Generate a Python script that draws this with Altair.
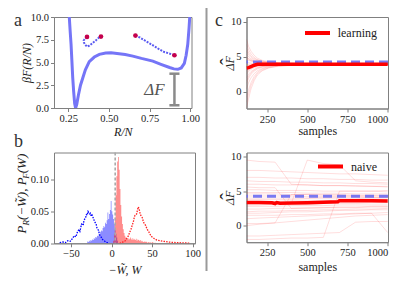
import altair as alt
import pandas as pd

SERIF = "Liberation Serif, DejaVu Serif, serif"
GRAY = "#808080"

# ---------------- panel a : free-energy profile ----------------
curve_r = [0.250, 0.256, 0.262, 0.267, 0.272, 0.277, 0.283, 0.289, 0.295, 0.302, 0.312,
           0.325, 0.339, 0.355, 0.379, 0.410, 0.441, 0.480, 0.513, 0.550, 0.600, 0.647,
           0.700, 0.770, 0.820, 0.873, 0.900, 0.924, 0.945, 0.964, 0.975, 0.985, 0.993, 1.000]
curve_f = [12.5, 10.0, 8.3, 7.0, 5.2, 3.4, 1.8, 0.5, 0.0, 0.4, 1.4,
           2.5, 3.3, 4.2, 5.1, 5.6, 5.9, 6.05, 6.08, 6.0, 5.88, 5.7,
           5.45, 5.15, 4.8, 4.45, 4.3, 4.25, 4.4, 4.9, 5.8, 7.0, 8.8, 10.8]
traj1_r = [0.365, 0.352, 0.345, 0.346, 0.352, 0.365, 0.380, 0.400, 0.418, 0.431, 0.442, 0.451]
traj1_f = [7.81, 7.60, 7.41, 7.20, 7.00, 6.75, 6.85, 7.15, 7.40, 7.63, 7.78, 7.85]
traj2_r = [0.663, 0.690, 0.718, 0.750, 0.780, 0.810, 0.840, 0.870, 0.903]
traj2_f = [7.96, 7.75, 7.45, 7.10, 6.78, 6.45, 6.15, 6.00, 5.80]
ends_r = [0.365, 0.451, 0.663, 0.903]
ends_f = [7.81, 7.85, 7.96, 5.80]
gap_r = 0.903
gap_lo, gap_hi = 0.3, 3.77
gap_cap = 0.031
gap_label = ["ΔF"]
gap_label_r, gap_label_f = 0.78, 2.0

# ---------------- panel b : work histograms ----------------
blue_start, red_start, bin_w = -30, 2, 1
blue_h = [0.003, 0.002, 0.004, 0.003, 0.005, 0.004, 0.006, 0.005, 0.008, 0.007,
          0.010, 0.009, 0.012, 0.011, 0.015, 0.014, 0.018, 0.020, 0.019, 0.024,
          0.027, 0.025, 0.032, 0.030, 0.036, 0.048, 0.038, 0.046, 0.052, 0.066,
          0.050, 0.045, 0.038, 0.030, 0.022, 0.015, 0.009, 0.004]
red_h = [0.004, 0.015, 0.040, 0.075, 0.105, 0.128, 0.135, 0.115, 0.085, 0.060,
         0.042, 0.030, 0.022, 0.016, 0.012, 0.009, 0.008, 0.007, 0.008, 0.006,
         0.007, 0.009, 0.006, 0.008, 0.005, 0.007, 0.006, 0.005, 0.007, 0.004,
         0.006, 0.005, 0.004, 0.005, 0.003, 0.004, 0.003, 0.002, 0.003, 0.002,
         0.003, 0.002, 0.001, 0.002, 0.001, 0.002, 0.001, 0.001, 0.002, 0.001,
         0.001, 0.0005, 0.001, 0.0005, 0.0005, 0.0005, 0.0005, 0.0005]
blue_dot_w = [-64, -60, -57, -54, -51, -48, -46, -44, -42, -40, -39, -37, -35, -34, -32,
              -31, -30, -29, -28, -27, -26, -25, -24, -22, -21, -19, -18, -16, -15, -13,
              -11, -9, -7, -5, -3]
blue_dot_p = [0.001, 0.002, 0.001, 0.004, 0.003, 0.008, 0.012, 0.010, 0.018, 0.022,
              0.019, 0.030, 0.028, 0.036, 0.040, 0.045, 0.044, 0.050, 0.048, 0.046,
              0.047, 0.042, 0.044, 0.038, 0.034, 0.030, 0.024, 0.020, 0.014, 0.010,
              0.006, 0.004, 0.002, 0.001, 0.0]
red_dot_w = [10, 13, 15, 17, 19, 21, 22, 24, 25, 27, 28, 29, 31, 32, 33, 34, 35, 36, 38,
             39, 40, 42, 44, 46, 48, 50, 53, 56, 60, 65, 70, 75, 80, 86, 92, 96]
red_dot_p = [0.0, 0.001, 0.003, 0.004, 0.008, 0.012, 0.016, 0.022, 0.026, 0.034, 0.040,
             0.044, 0.046, 0.052, 0.057, 0.054, 0.048, 0.044, 0.040, 0.035, 0.032, 0.028,
             0.022, 0.018, 0.013, 0.010, 0.007, 0.005, 0.004, 0.003, 0.002, 0.0015,
             0.001, 0.0008, 0.0005, 0.0003]
ref_w = [4.5]

# ---------------- panel c : estimates vs samples ----------------
true_df = [4.25]
top_x = [122, 135, 150, 170, 190, 220, 260, 320, 420, 600, 1000]
top_lines = [
    [6.8, 6.0, 5.4, 4.9, 4.6, 4.35, 4.2, 4.1, 4.03, 4.0, 3.98],
    [0.4, 1.3, 2.0, 2.6, 3.0, 3.35, 3.6, 3.75, 3.85, 3.9, 3.94],
    [-2.3, -1.0, 0.4, 1.6, 2.4, 3.0, 3.4, 3.65, 3.8, 3.88, 3.93],
    [5.4, 5.0, 4.7, 4.45, 4.3, 4.18, 4.1, 4.04, 4.0, 3.98, 3.96],
    [2.0, 2.5, 2.9, 3.2, 3.45, 3.62, 3.75, 3.83, 3.89, 3.93, 3.95],
    [7.5, 6.5, 5.8, 5.2, 4.8, 4.5, 4.3, 4.15, 4.06, 4.01, 3.98],
    [3.0, 3.3, 3.5, 3.65, 3.75, 3.82, 3.87, 3.9, 3.93, 3.95, 3.96],
    [4.6, 4.5, 4.4, 4.3, 4.2, 4.12, 4.06, 4.02, 3.99, 3.97, 3.96],
    [1.2, 1.9, 2.5, 2.95, 3.25, 3.5, 3.68, 3.8, 3.87, 3.92, 3.95],
    [6.2, 5.6, 5.1, 4.75, 4.55, 4.38, 4.24, 4.12, 4.05, 4.0, 3.97],
    [-0.8, 0.3, 1.3, 2.2, 2.8, 3.25, 3.55, 3.72, 3.83, 3.9, 3.94],
    [3.6, 3.7, 3.78, 3.84, 3.88, 3.9, 3.92, 3.94, 3.95, 3.96, 3.96],
    [5.0, 4.75, 4.55, 4.38, 4.27, 4.17, 4.09, 4.04, 4.0, 3.98, 3.96],
    [2.5, 2.9, 3.2, 3.45, 3.6, 3.72, 3.8, 3.86, 3.9, 3.93, 3.95],
    [4.2, 4.15, 4.1, 4.07, 4.05, 4.03, 4.01, 3.99, 3.98, 3.97, 3.96],
    [1.6, 2.2, 2.7, 3.1, 3.38, 3.6, 3.74, 3.83, 3.88, 3.92, 3.95],
    [3.3, 3.5, 3.65, 3.75, 3.82, 3.87, 3.9, 3.92, 3.94, 3.95, 3.96],
    [5.8, 5.3, 4.9, 4.6, 4.42, 4.28, 4.17, 4.08, 4.03, 3.99, 3.97],
    [-1.5, -0.3, 0.9, 1.9, 2.6, 3.1, 3.45, 3.68, 3.82, 3.89, 3.94],
    [4.9, 4.65, 4.45, 4.3, 4.2, 4.12, 4.06, 4.02, 3.99, 3.97, 3.96],
    [2.8, 3.1, 3.35, 3.55, 3.68, 3.78, 3.85, 3.89, 3.92, 3.95, 3.96],
    [3.9, 3.92, 3.94, 3.95, 3.96, 3.96, 3.96, 3.96, 3.96, 3.96, 3.96],
]
top_mean_x = [122, 135, 150, 170, 190, 220, 260, 400, 600, 800, 1000]
top_mean = [3.4, 3.45, 3.6, 3.8, 3.92, 3.95, 3.95, 3.95, 3.95, 3.95, 3.95]

bot_x = [122, 200, 300, 400, 500, 600, 700, 800, 900, 1000]
bot_lines = [
    [9.5, 9.3, 9.2, 6.0, 5.9, 5.8, 5.8, 5.7, 5.7, 5.6],
    [7.0, 7.0, 6.9, 6.9, 6.8, 6.8, 6.7, 6.7, 6.6, 6.6],
    [6.0, 6.0, 5.9, 5.9, 5.9, 5.8, 5.8, 5.8, 5.7, 5.7],
    [5.2, 5.2, 5.1, 5.1, 5.1, 5.0, 5.0, 5.0, 5.0, 4.9],
    [4.6, 4.6, 4.6, 4.5, 4.5, 4.5, 4.5, 4.4, 4.4, 4.4],
    [4.0, 4.0, 4.0, 4.0, 4.0, 4.1, 4.1, 4.1, 4.1, 4.1],
    [3.5, 3.5, 3.5, 3.6, 3.6, 3.6, 3.7, 3.7, 3.7, 3.8],
    [3.0, 3.0, 3.1, 3.1, 3.1, 3.2, 3.2, 3.2, 3.3, 3.3],
    [2.4, 2.4, 2.5, 2.5, 2.6, 2.6, 2.7, 2.7, 2.8, 2.8],
    [1.8, 1.8, 1.9, 2.0, 2.0, 2.1, 2.2, 2.2, 2.3, 2.3],
    [1.0, 1.1, 1.2, 1.3, 1.4, 1.5, 1.6, 1.7, 1.8, 1.9],
    [-1.5, -1.5, -1.4, -1.3, -1.2, -1.1, -1.0, 0.5, 0.6, 0.6],
    [0.3, 0.3, 0.4, 4.5, 4.5, 4.4, 4.4, 4.3, 4.3, 4.3],
    [5.6, 5.5, 5.5, 2.5, 2.5, 2.6, 2.6, 2.6, 2.7, 2.7],
    [3.2, 3.2, 3.2, 3.2, 9.5, 9.0, 8.8, 6.5, 6.3, 6.2],
    [-2.0, -2.0, -1.9, -1.8, -1.8, -1.7, 5.0, 5.0, 5.0, 5.1],
    [6.5, 6.4, 6.4, 6.3, 6.3, 6.2, 6.2, 6.1, 6.1, 6.0],
    [2.0, 2.1, 2.1, 2.2, 2.2, 2.3, 2.3, 2.4, 2.4, 2.5],
    [4.3, 4.3, 4.3, 4.3, 4.2, 4.2, 4.2, 4.2, 4.1, 4.1],
    [3.8, 3.8, 3.8, 3.8, 3.9, 3.9, 3.9, 3.9, 4.0, 4.0],
    [8.0, 8.0, 7.9, 7.8, 7.7, 7.6, 7.5, 7.5, 7.4, 7.3],
    [1.5, 1.5, 1.5, 1.6, 1.6, 1.7, 1.7, 1.8, 1.8, -1.0],
    [2.8, 2.8, 2.8, 2.9, 2.9, 2.9, 3.0, 3.0, 3.0, 3.0],
    [4.8, 4.8, 4.8, 4.8, 4.7, 4.7, 4.7, 4.6, 4.6, 4.6],
    [0.0, 0.2, 0.4, 0.6, 0.8, 1.0, 1.2, 1.4, 1.5, 1.6],
]
bot_mean_x = [122, 200, 280, 300, 310, 330, 400, 500, 600, 690, 700, 800, 900, 1000]
bot_mean = [3.35, 3.35, 3.3, 3.2, 3.35, 3.25, 3.28, 3.32, 3.4, 3.45, 3.62, 3.62, 3.6, 3.58]

legend_labels = ["learning", "naive"]
panel_labels = ["a", "b", "c"]

# ---------------- helpers ----------------
def label_layer(txt, x, y, size=18):
    return alt.Chart(pd.DataFrame({"t": [txt]})).mark_text(
        font=SERIF, fontSize=size, align="left", baseline="alphabetic", color="#333"
    ).encode(x=alt.value(x), y=alt.value(y), text="t:N")


# ---------------- panel a ----------------
WA, HA = 137.5, 91
xa = alt.X("r:Q", scale=alt.Scale(domain=[0.162, 1.008], nice=False, zero=False),
           axis=alt.Axis(values=[0.25, 0.5, 0.75, 1.0], format=".2f", title="R/N",
                         titleX=WA / 2, titleY=23, titleBaseline="middle",
                         titleFontStyle="italic"))
ya = alt.Y("f:Q", scale=alt.Scale(domain=[0, 10], nice=False, zero=False),
           axis=alt.Axis(values=[0, 2.5, 5, 7.5, 10], format=".1f", title="βF(R/N)",
                         titleX=-28, titleY=HA / 2, titleAlign="center",
                         titleBaseline="middle", titleAngle=270, titleFontStyle="italic"))

curve = alt.Chart(pd.DataFrame({"r": curve_r, "f": curve_f})).mark_line(
    color="#7575f7", strokeWidth=3, clip=True).encode(x=xa, y=ya)
t1 = alt.Chart(pd.DataFrame({"r": traj1_r, "f": traj1_f, "o": range(len(traj1_r))})).mark_line(
    color="#4848f0", strokeWidth=2, strokeDash=[2, 1.2], opacity=0.9).encode(x=xa, y=ya, order="o:Q")
t2 = alt.Chart(pd.DataFrame({"r": traj2_r, "f": traj2_f, "o": range(len(traj2_r))})).mark_line(
    color="#4848f0", strokeWidth=2, strokeDash=[2, 1.2], opacity=0.9).encode(x=xa, y=ya, order="o:Q")
ends = alt.Chart(pd.DataFrame({"r": ends_r, "f": ends_f})).mark_point(
    filled=True, size=22, color="#c4004c", opacity=1).encode(x=xa, y=ya)
gap_bar = alt.Chart(pd.DataFrame({"r": [gap_r], "f": [gap_lo], "f2": [gap_hi]})).mark_rule(
    color="#8a8a8a", strokeWidth=2.5).encode(x=xa, y=ya, y2="f2:Q")
gap_caps = alt.Chart(pd.DataFrame({"r": [gap_r - gap_cap] * 2, "r2": [gap_r + gap_cap] * 2,
                                   "f": [gap_lo, gap_hi]})).mark_rule(
    color="#8a8a8a", strokeWidth=2.5).encode(x=xa, x2="r2:Q", y=ya)
gap_txt = alt.Chart(pd.DataFrame({"r": [gap_label_r], "f": [gap_label_f], "t": gap_label})).mark_text(
    font=SERIF, fontSize=17, fontStyle="italic", color="#555", align="center",
    baseline="middle").encode(x=xa, y=ya, text="t:N")

panel_a = alt.layer(curve, t1, t2, ends, gap_bar, gap_caps, gap_txt,
                    label_layer(panel_labels[0], -40, 8.5)).properties(width=WA, height=HA)

# ---------------- panel b ----------------
WB, HB = 141, 90.8
xb = alt.X("w:Q", scale=alt.Scale(domain=[-71, 103], nice=False, zero=False),
           axis=alt.Axis(values=[-50, 0, 50, 100], format="d", title="−W̃, W",
                         titleX=WB / 2, titleY=26.5, titleBaseline="middle",
                         titleFontStyle="italic"))
yb = alt.Y("p:Q", scale=alt.Scale(domain=[0, 0.142], nice=False, zero=False),
           axis=alt.Axis(values=[0, 0.05, 0.1], format=".2f", title=None))


def step_df(start, heights):
    ws = [start + i * bin_w for i in range(len(heights))] + [start + len(heights) * bin_w]
    ps = list(heights) + [heights[-1]]
    return pd.DataFrame({"w": ws, "p": ps})


area_blue = alt.Chart(step_df(blue_start, blue_h)).mark_area(
    color="#0000ff", opacity=0.45, interpolate="step-after", clip=True).encode(x=xb, y=yb)
area_red = alt.Chart(step_df(red_start, red_h)).mark_area(
    color="#ff0000", opacity=0.45, interpolate="step-after", clip=True).encode(x=xb, y=yb)
dot_blue = alt.Chart(pd.DataFrame({"w": blue_dot_w, "p": blue_dot_p})).mark_line(
    color="#0000ff", strokeWidth=1.3, strokeDash=[1.5, 1.2], clip=True).encode(x=xb, y=yb)
dot_red = alt.Chart(pd.DataFrame({"w": red_dot_w, "p": red_dot_p})).mark_line(
    color="#ff2020", strokeWidth=1.3, strokeDash=[1.5, 1.2], clip=True).encode(x=xb, y=yb)
ref_rule = alt.Chart(pd.DataFrame({"w": ref_w})).mark_rule(
    color="#aaaaaa", strokeWidth=1.6, strokeDash=[3, 2]).encode(x=xb)

# rotated y title with subscripts
pieces = [("P", 13, -28, 81.0), ("R", 9, -25, 73.06), ("(−W̃), P", 13, -28, 67.56),
          ("F", 9, -25, 26.26), ("(W)", 13, -28, 20.76)]
title_layers = []
for txt, size, xx, yy in pieces:
    title_layers.append(
        alt.Chart(pd.DataFrame({"t": [txt]})).mark_text(
            font=SERIF, fontSize=size, fontStyle="italic", angle=270, align="left",
            baseline="alphabetic", color="#222").encode(
            x=alt.value(xx), y=alt.value(yy), text="t:N"))

panel_b = alt.layer(area_blue, area_red, dot_blue, dot_red, ref_rule, *title_layers,
                    label_layer(panel_labels[1], -40, -5.7)).properties(width=WB, height=HB)

# ---------------- panel c ----------------
WC = 141.5
LEG_TEXT_END = 130.5


def c_panel(xs, lines, mx, mv, dom, h, legend, leg_x, leg_y, title_y, extra):
    xc = alt.X("s:Q", scale=alt.Scale(domain=[122, 1002], nice=False, zero=False),
               axis=alt.Axis(values=[250, 500, 750, 1000], format="d", title="samples",
                             titleX=WC / 2, titleY=title_y, titleBaseline="middle"))
    yc = alt.Y("v:Q", scale=alt.Scale(domain=dom, nice=False, zero=False),
               axis=alt.Axis(values=[0, 5, 10], format="d", title="ΔF",
                             titleX=-17, titleY=h / 2, titleAlign="center",
                             titleBaseline="middle", titleAngle=270,
                             titleFontStyle="italic"))
    rows = []
    for i, ln in enumerate(lines):
        for s, v in zip(xs, ln):
            rows.append({"s": s, "v": v, "id": i})
    thin = alt.Chart(pd.DataFrame(rows)).mark_line(
        color="#ff0000", opacity=0.17, strokeWidth=0.8, clip=True).encode(
        x=xc, y=yc, detail="id:N")
    blue = alt.Chart(pd.DataFrame({"v": true_df})).mark_rule(
        color="#6b6bf2", strokeWidth=3, strokeDash=[9, 5], opacity=0.9).encode(y=yc)
    mean = alt.Chart(pd.DataFrame({"s": mx, "v": mv})).mark_line(
        color="#ff0000", strokeWidth=3.5, clip=True).encode(x=xc, y=yc)
    hat = alt.Chart(pd.DataFrame({"t": ["ˆ"]})).mark_text(
        font=SERIF, fontSize=20, angle=270, align="center", baseline="middle",
        color="#222").encode(x=alt.value(-18), y=alt.value(h / 2 - 1), text="t:N")
    leg_line = alt.Chart(pd.DataFrame({"k": [0]})).mark_rule(
        color="#ff0000", strokeWidth=4).encode(
        x=alt.value(leg_x), x2=alt.value(leg_x + 25), y=alt.value(leg_y))
    leg_txt = alt.Chart(pd.DataFrame({"t": [legend]})).mark_text(
        font=SERIF, fontSize=12, align="right", baseline="middle", color="#222").encode(
        x=alt.value(LEG_TEXT_END), y=alt.value(leg_y), text="t:N")
    return alt.layer(thin, blue, mean, hat, leg_line, leg_txt, *extra).properties(
        width=WC, height=h)


divider = alt.Chart(pd.DataFrame({"k": [0]})).mark_rule(
    color="#9a9a9a", strokeWidth=2).encode(
    x=alt.value(-40), y=alt.value(-11), y2=alt.value(254))

panel_c1 = c_panel(top_x, top_lines, top_mean_x, top_mean, [-2.4, 10.7], 91.5,
                   legend_labels[0], 58.5, 16, 22,
                   [divider, label_layer(panel_labels[2], -31.5, 8.5)])
panel_c2 = c_panel(bot_x, bot_lines, bot_mean_x, bot_mean, [-2.4, 10.6], 89.7,
                   legend_labels[1], 71.5, 14, 24.3, [])

chart = alt.concat(panel_a, panel_c1, panel_b, panel_c2, columns=2,
                   spacing={"row": 43.5, "column": 50.5}, bounds="flush", align="all").properties(
    padding={"left": 5, "top": -4, "right": 5, "bottom": 5}
).configure_axis(
    domainColor=GRAY, domainWidth=1, tickColor=GRAY, tickSize=3.5, tickWidth=1,
    labelFont=SERIF, labelFontSize=10.5, labelColor="#222", labelPadding=2,
    titleFont=SERIF, titleFontSize=12, titleFontWeight="normal", titleColor="#222",
    grid=False
).configure_view(stroke=GRAY, strokeWidth=1)

chart.save("out.html", embed_options={"renderer": "svg", "actions": False})
